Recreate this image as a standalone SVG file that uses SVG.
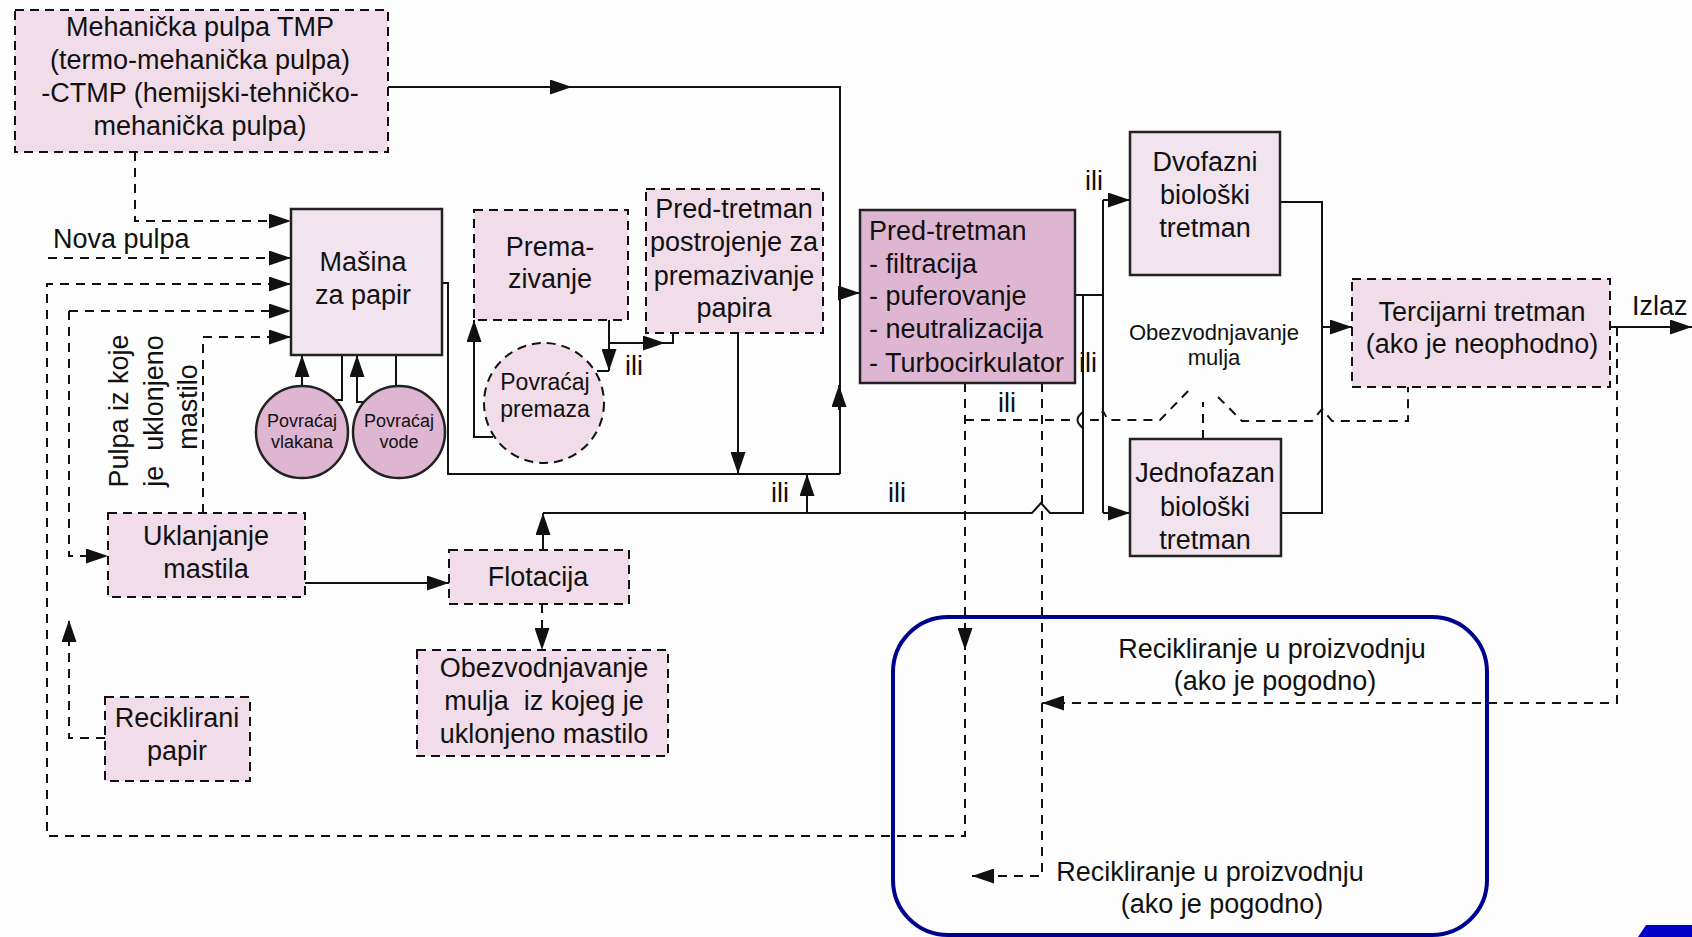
<svg xmlns="http://www.w3.org/2000/svg" width="1692" height="937" viewBox="0 0 1692 937">
<defs>
<style>
.t{font-family:"Liberation Sans",Arial,sans-serif;font-size:27px;fill:#111;text-anchor:middle}
.l{text-anchor:start}
.s{font-size:18px}
.m{font-size:23px}
.o{font-size:22px}
.bd{fill:#f1dde9;stroke:#111;stroke-width:2;stroke-dasharray:9,6}
.bs{fill:#f1e4ee;stroke:#222;stroke-width:2.5}
.dk{fill:#dfb6d1;stroke:#222;stroke-width:2.5}
.c{fill:none;stroke:#111;stroke-width:2}
.d{fill:none;stroke:#111;stroke-width:2;stroke-dasharray:9,7}
.a{marker-end:url(#ah)}
</style>
<marker id="ah" viewBox="0 0 22 15" markerWidth="22" markerHeight="15" refX="22" refY="7.5" orient="auto" markerUnits="userSpaceOnUse">
<path d="M0,0 L22,7.5 L0,15 z" fill="#111"/>
</marker>
</defs>
<rect width="1692" height="937" fill="#fdfdfd"/>

<g id="connectors">
<!-- top TMP to pred-tretman -->
<path class="c" d="M388,87 H840 V474"/>
<path class="c a" d="M550,87 H572"/>
<path class="c a" d="M839,410 V385"/>
<path class="c a" d="M839,293 H860"/>
<path class="c" d="M442,283 H448 V474 H840"/>
<path class="c a" d="M738,333 V474"/>
<path class="c a" d="M807,513 V474"/>
<path class="c a" d="M543,550 V513"/>
<path class="c" d="M543,513 H1032 L1041,503 L1050,513 H1083 V412 Q1072,420 1083,428 V295"/>
<path class="c" d="M1075,295 H1103"/>
<path class="c" d="M1103,200 V513"/>
<path class="c a" d="M1103,200 H1130"/>
<path class="c a" d="M1103,513 H1130"/>
<path class="c" d="M1280,202 H1322 V513 H1281"/>
<path class="c a" d="M1322,327 H1352"/>
<path class="c a" d="M1610,327 H1692"/>
<!-- circles under Masina -->
<path class="c a" d="M302,387 V355"/>
<path class="c" d="M342,355 V400 H336"/>
<path class="c a" d="M365,402 H357 V355"/>
<path class="c" d="M396,355 V387"/>
<!-- premazivanje -->
<path class="c a" d="M609,320 V371"/>
<path class="c" d="M609,371 H597"/>
<path class="c" d="M609,343 H673 V333"/>
<path class="c a" d="M640,343 H665"/>
<path class="c a" d="M493,437 H474 V320"/>
<!-- deinking -->
<path class="c a" d="M305,583 H449"/>
<path class="d a" d="M542,604 V650"/>
<!-- dashed feeds to Masina -->
<path class="d a" d="M135,152 V221 H291"/>
<path class="d a" d="M48,258 H291"/>
<path class="d a" d="M965,383 V836 H47 V284 H291"/>
<path class="c a" d="M965,628 V650"/>
<path class="d a" d="M69,311 H291"/>
<path class="d a" d="M69,311 V556 H108"/>
<path class="d a" d="M203,513 V337 H291"/>
<path class="d a" d="M105,738 H69 V620"/>
<!-- recycling dashed -->
<path class="d a" d="M1617,327 V703 H1042"/>
<path class="d a" d="M1042,383 V876 H972"/>
<path class="d" d="M965,420 H1076 M1090,420 H1098 L1103,411 L1108,420 H1160 L1190,389"/>
<path class="d" d="M1218,397 L1242,421 H1312 L1322,409 L1332,421 H1408 V387"/>
<path class="d" d="M1203,439 V402"/>
</g>

<g id="tmp">
<rect class="bd" x="15" y="10" width="373" height="142"/>
<text class="t" x="200" y="36">Mehanička pulpa TMP</text>
<text class="t" x="200" y="69">(termo-mehanička pulpa)</text>
<text class="t" x="200" y="102">-CTMP (hemijski-tehničko-</text>
<text class="t" x="200" y="135">mehanička pulpa)</text>
</g>

<g id="masina">
<rect class="bs" x="291" y="209" width="151" height="146"/>
<text class="t" x="363" y="271">Mašina</text>
<text class="t" x="363" y="304">za papir</text>
</g>

<g id="povracaj-vlakana">
<circle class="dk" cx="302" cy="432" r="46"/>
<text class="t s" x="302" y="427">Povraćaj</text>
<text class="t s" x="302" y="448">vlakana</text>
</g>

<g id="povracaj-vode">
<circle class="dk" cx="399" cy="432" r="46"/>
<text class="t s" x="399" y="427">Povraćaj</text>
<text class="t s" x="399" y="448">vode</text>
</g>

<g id="premazivanje">
<rect class="bd" x="474" y="210" width="154" height="110"/>
<text class="t" x="550" y="256">Prema-</text>
<text class="t" x="550" y="288">zivanje</text>
</g>

<g id="povracaj-premaza">
<circle class="bd" cx="544" cy="403" r="60"/>
<text class="t m" x="545" y="390">Povraćaj</text>
<text class="t m" x="545" y="417">premaza</text>
</g>

<g id="pred-tretman-postrojenje">
<rect class="bd" x="646" y="189" width="177" height="144"/>
<text class="t" x="734" y="218">Pred-tretman</text>
<text class="t" x="734" y="251">postrojenje za</text>
<text class="t" x="734" y="285">premazivanje</text>
<text class="t" x="734" y="317">papira</text>
</g>

<g id="pred-tretman">
<rect class="dk" x="860" y="210" width="215" height="173"/>
<text class="t l" x="869" y="240">Pred-tretman</text>
<text class="t l" x="869" y="273">- filtracija</text>
<text class="t l" x="869" y="305">- puferovanje</text>
<text class="t l" x="869" y="338">- neutralizacija</text>
<text class="t l" x="869" y="372">- Turbocirkulator</text>
</g>

<g id="dvofazni">
<rect class="bs" x="1130" y="132" width="150" height="143"/>
<text class="t" x="1205" y="171">Dvofazni</text>
<text class="t" x="1205" y="204">biološki</text>
<text class="t" x="1205" y="237">tretman</text>
</g>

<g id="jednofazan">
<rect class="bs" x="1130" y="439" width="151" height="117"/>
<text class="t" x="1205" y="482">Jednofazan</text>
<text class="t" x="1205" y="516">biološki</text>
<text class="t" x="1205" y="549">tretman</text>
</g>

<g id="tercijarni">
<rect class="bd" x="1352" y="279" width="258" height="108"/>
<text class="t" x="1482" y="321">Tercijarni tretman</text>
<text class="t" x="1482" y="353">(ako je neophodno)</text>
</g>

<g id="uklanjanje">
<rect class="bd" x="108" y="513" width="197" height="84"/>
<text class="t" x="206" y="545">Uklanjanje</text>
<text class="t" x="206" y="578">mastila</text>
</g>

<g id="flotacija">
<rect class="bd" x="449" y="550" width="180" height="54"/>
<text class="t" x="538" y="586">Flotacija</text>
</g>

<g id="obezvodnjavanje-mastilo">
<rect class="bd" x="417" y="650" width="251" height="106"/>
<text class="t" x="544" y="677">Obezvodnjavanje</text>
<text class="t" x="544" y="710" xml:space="preserve">mulja  iz kojeg je</text>
<text class="t" x="544" y="743">uklonjeno mastilo</text>
</g>

<g id="reciklirani">
<rect class="bd" x="105" y="697" width="145" height="84"/>
<text class="t" x="177" y="727">Reciklirani</text>
<text class="t" x="177" y="760">papir</text>
</g>

<g id="recikliranje-box">
<rect x="893" y="617" width="594" height="318" rx="55" ry="55" fill="none" stroke="#00008f" stroke-width="4"/>
<text class="t" x="1272" y="658">Recikliranje u proizvodnju</text>
<text class="t" x="1275" y="690">(ako je pogodno)</text>
<text class="t" x="1210" y="881">Recikliranje u proizvodnju</text>
<text class="t" x="1222" y="913">(ako je pogodno)</text>
</g>

<g id="labels">
<text class="t l" x="53" y="248">Nova pulpa</text>
<text class="t" transform="translate(128,411) rotate(-90)">Pulpa iz koje</text>
<text class="t" transform="translate(163,411) rotate(-90)" xml:space="preserve">je  uklonjeno</text>
<text class="t" transform="translate(197,407) rotate(-90)">mastilo</text>
<text class="t l" x="625" y="375">ili</text>
<text class="t" x="780" y="502">ili</text>
<text class="t" x="897" y="502">ili</text>
<text class="t l" x="1079" y="372">ili</text>
<text class="t" x="1007" y="412">ili</text>
<text class="t" x="1094" y="190">ili</text>
<text class="t o" x="1214" y="340">Obezvodnjavanje</text>
<text class="t o" x="1214" y="365">mulja</text>
<text class="t l" x="1632" y="315">Izlaz</text>
</g>

<polygon points="1638,937 1646,925 1692,925 1692,937" fill="#0000c8"/>
</svg>
